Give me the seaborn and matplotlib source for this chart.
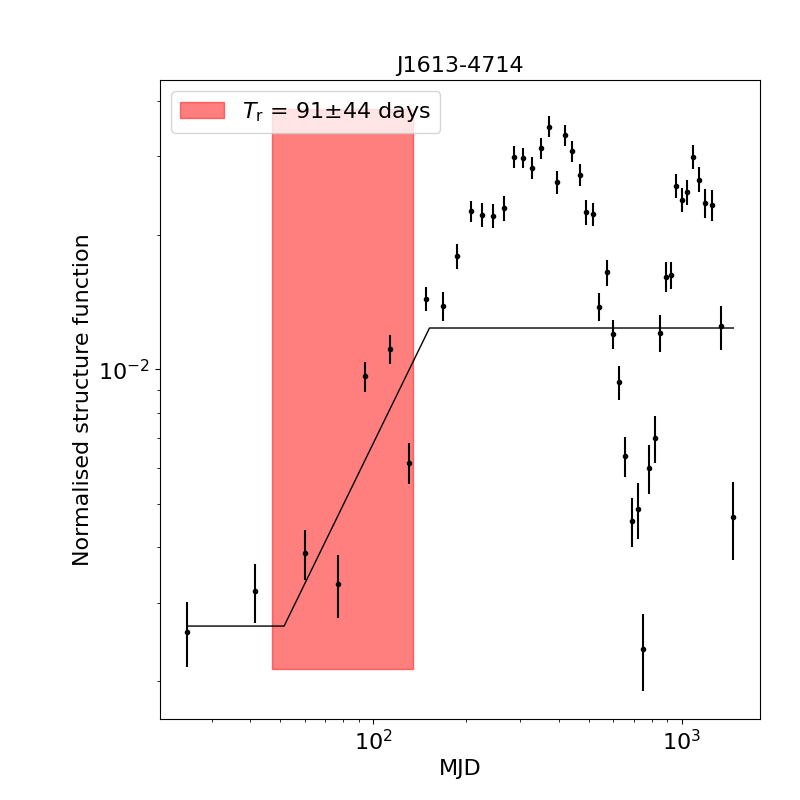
import numpy as np
import pandas as pd
import matplotlib
matplotlib.use("Agg")
import matplotlib.pyplot as plt
import seaborn as sns

# ---- data ----
title = "J1613-4714"
lag_days = [25.0, 41.3, 60.3, 77.2, 94.5, 113.6, 131.2, 148.6, 168.7, 187.2,
            208.3, 226.2, 244.9, 265.9, 287.1, 307.0, 328.4, 351.1, 371.9, 394.8,
            420.0, 442.5, 469.7, 491.3, 517.6, 541.2, 574.5, 599.6, 628.4, 655.7,
            690.7, 723.9, 749.9, 786.0, 821.9, 853.1, 892.1, 926.1, 961.2, 1005.3,
            1043.5, 1088.7, 1141, 1193, 1255, 1345, 1471]
# structure function values in units of 1e-3
sf_1e3 = [2.574, 3.180, 3.869, 3.297, 9.665, 11.11, 6.159, 14.39, 13.85, 17.93,
          22.66, 22.20, 22.08, 23.01, 29.93, 29.78, 28.28, 31.36, 34.95, 26.32,
          33.49, 30.88, 27.29, 22.54, 22.31, 13.80, 16.54, 12.01, 9.357, 6.386,
          4.565, 4.856, 2.357, 6.003, 7.006, 12.05, 16.11, 16.26, 25.74, 23.98,
          25.00, 29.93, 26.59, 23.61, 23.37, 12.51, 4.660]
sf_upper_1e3 = [3.009, 3.661, 4.364, 3.836, 10.37, 11.93, 6.839, 15.28, 14.89, 19.10,
                23.86, 23.57, 23.46, 24.44, 31.69, 31.36, 29.93, 33.07, 37.05, 27.85,
                35.37, 32.52, 28.87, 23.98, 23.65, 14.82, 17.59, 12.89, 10.18, 7.053,
                5.149, 5.562, 2.828, 6.768, 7.861, 13.24, 17.38, 17.38, 27.42, 25.47,
                26.59, 31.85, 28.38, 25.34, 25.25, 13.87, 5.591]
sf_lower_1e3 = [2.151, 2.705, 3.371, 2.775, 8.913, 10.30, 5.542, 13.54, 12.86, 16.82,
                21.37, 20.89, 20.72, 21.48, 28.32, 28.24, 26.77, 29.67, 33.14, 24.77,
                31.74, 29.17, 25.82, 21.10, 20.96, 12.86, 15.41, 11.13, 8.553, 5.746,
                4.004, 4.173, 1.903, 5.264, 6.177, 10.96, 14.94, 15.17, 24.17, 22.50,
                23.41, 28.10, 24.95, 21.89, 21.48, 11.07, 3.744]

# broken power-law fit (knots)
fit_lag = [25.0, 51.5, 152.4, 1471]
fit_sf = [2.659e-3, 2.659e-3, 1.238e-2, 1.238e-2]

# timescale band
tr_low, tr_high = 47, 135
band_ylow, band_yhigh = 2.13e-3, 3.84e-2
legend_label = r"$T_\mathrm{r}$ = 91±44 days"

# ---- build ----
lag = np.array(lag_days)
sf = np.array(sf_1e3) * 1e-3
up = np.array(sf_upper_1e3) * 1e-3
lo = np.array(sf_lower_1e3) * 1e-3
df_fit = pd.DataFrame({"lag": fit_lag, "sf": fit_sf})

plt.rcParams["font.size"] = 16
fig, ax = plt.subplots(figsize=(8, 8), dpi=100)
fig.subplots_adjust(left=0.2, right=0.95, bottom=0.10125, top=0.9)

ax.fill_between([tr_low, tr_high], band_ylow, band_yhigh, color="red",
                alpha=0.5, label=legend_label)
ax.errorbar(lag, sf, yerr=[sf - lo, up - sf], fmt="k.", ecolor="k")
sns.lineplot(data=df_fit, x="lag", y="sf", ax=ax, color="k", lw=1,
             estimator=None, sort=False, legend=False)

ax.set_xscale("log")
ax.set_yscale("log")
ax.set_xlim(20.4, 1795)
ax.set_ylim(0.001646, 0.04452)
ax.set_xlabel("MJD", fontsize=16)
ax.set_ylabel("Normalised structure function", fontsize=16)
ax.tick_params(labelsize=16)
ax.set_title(title, fontsize=16)

handles, labels = ax.get_legend_handles_labels()
ax.legend(handles[:1], labels[:1], loc="upper left", fontsize=16)

fig.savefig("out.png", dpi=100)
